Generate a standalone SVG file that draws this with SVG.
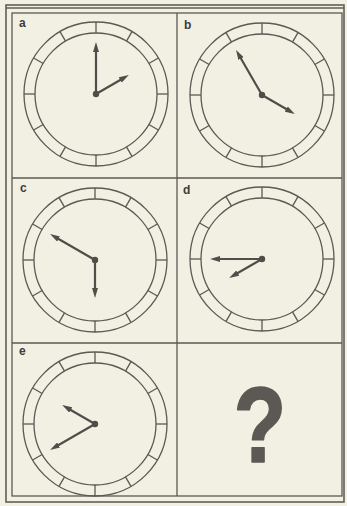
<svg xmlns="http://www.w3.org/2000/svg" width="347" height="506" viewBox="0 0 347 506">
<defs>
<style>
.ln{fill:none;stroke:#5a5953;stroke-width:1.3}
.fr{fill:none;stroke:#5f5e58;stroke-width:1.6}
.hand{stroke:#4f4e49;stroke-width:2.2;stroke-linecap:round;marker-end:url(#ah)}
.lbl{font-family:"Liberation Sans",Arial,sans-serif;font-weight:bold;font-size:12px;fill:#3e3d39}
</style>
<marker id="ah" viewBox="0 0 10 6" refX="1" refY="3" markerWidth="4.5" markerHeight="2.7" orient="auto" markerUnits="strokeWidth">
<path d="M0,0 L10,3 L0,6 Z" fill="#4f4e49"/>
</marker>
<g id="face">
<circle class="ln" r="72"/>
<circle class="ln" r="61"/>
<g class="ln">
<line x1="0" y1="-61" x2="0" y2="-72"/>
<line x1="0" y1="-61" x2="0" y2="-72" transform="rotate(30)"/>
<line x1="0" y1="-61" x2="0" y2="-72" transform="rotate(60)"/>
<line x1="0" y1="-61" x2="0" y2="-72" transform="rotate(90)"/>
<line x1="0" y1="-61" x2="0" y2="-72" transform="rotate(120)"/>
<line x1="0" y1="-61" x2="0" y2="-72" transform="rotate(150)"/>
<line x1="0" y1="-61" x2="0" y2="-72" transform="rotate(180)"/>
<line x1="0" y1="-61" x2="0" y2="-72" transform="rotate(210)"/>
<line x1="0" y1="-61" x2="0" y2="-72" transform="rotate(240)"/>
<line x1="0" y1="-61" x2="0" y2="-72" transform="rotate(270)"/>
<line x1="0" y1="-61" x2="0" y2="-72" transform="rotate(300)"/>
<line x1="0" y1="-61" x2="0" y2="-72" transform="rotate(330)"/>
</g>
<circle r="3.2" fill="#4f4e49"/>
</g>
<line id="long" class="hand" x1="0" y1="0" x2="0" y2="-43"/>
<line id="short" class="hand" x1="0" y1="0" x2="0" y2="-29"/>
</defs>
<rect width="347" height="506" fill="#f2efe3"/>
<g id="frame">
<rect class="fr" x="6" y="5" width="338" height="497"/>
<line class="fr" x1="6" y1="8" x2="344" y2="8"/>
<rect class="ln" x="12" y="13" width="330" height="483"/>
<line class="ln" x1="177" y1="13" x2="177" y2="496"/>
<line class="ln" x1="12" y1="178" x2="342" y2="178"/>
<line class="ln" x1="12" y1="343" x2="342" y2="343"/>
</g>
<g id="clock-a">
<text class="lbl" x="19" y="27">a</text>
<use href="#face" x="96" y="94"/>
<use href="#long" transform="translate(96,94) rotate(0)"/>
<use href="#short" transform="translate(96,94) rotate(60)"/>
</g>
<g id="clock-b">
<text class="lbl" x="184" y="29">b</text>
<use href="#face" x="262" y="95"/>
<use href="#long" transform="translate(262,95) rotate(-30)"/>
<use href="#short" transform="translate(262,95) rotate(120)"/>
</g>
<g id="clock-c">
<text class="lbl" x="20" y="192">c</text>
<use href="#face" x="95" y="260"/>
<use href="#long" transform="translate(95,260) rotate(-60)"/>
<use href="#short" transform="translate(95,260) rotate(180)"/>
</g>
<g id="clock-d">
<text class="lbl" x="183" y="194">d</text>
<use href="#face" x="262" y="259"/>
<use href="#long" transform="translate(262,259) rotate(-90)"/>
<use href="#short" transform="translate(262,259) rotate(-120)"/>
</g>
<g id="clock-e">
<text class="lbl" x="19" y="355">e</text>
<use href="#face" x="95" y="424"/>
<use href="#long" transform="translate(95,424) rotate(-120)"/>
<use href="#short" transform="translate(95,424) rotate(-60)"/>
</g>
<g id="unknown">
<text x="0" y="0" transform="translate(260,462) scale(0.8,1)" text-anchor="middle" font-family="Liberation Sans, Arial, sans-serif" font-weight="bold" font-size="108" fill="#5c5853" stroke="#5c5853" stroke-width="1.5" stroke-linejoin="round">?</text>
</g>
</svg>
